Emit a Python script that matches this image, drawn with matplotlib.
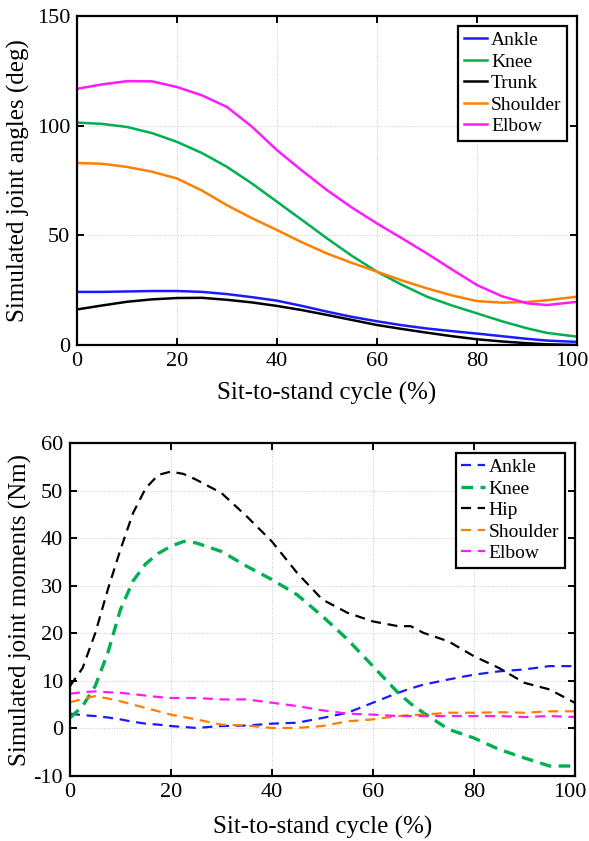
import matplotlib
matplotlib.use("Agg")
import matplotlib.pyplot as plt
import matplotlib.transforms as mtrans
import numpy as np

plt.rcParams['font.family'] = ['Liberation Serif', 'DejaVu Serif']
plt.rcParams['axes.unicode_minus'] = False

# joint angles (deg)
ang_x = [0, 5, 10, 15, 20, 25, 30, 35, 40, 45, 50, 55, 60, 65, 70, 75, 80, 85, 90, 94, 100]
ankle_ang = [24.2, 24.2, 24.4, 24.6, 24.6, 24.2, 23.2, 21.8, 20.2, 17.8, 15.2, 12.8, 10.8, 9.0, 7.5, 6.3, 5.2, 4.0, 2.8, 2.0, 1.4]
knee_ang = [101.4, 100.8, 99.4, 96.6, 92.6, 87.5, 81.2, 73.6, 65.3, 57.0, 48.6, 40.6, 33.4, 27.4, 22.0, 18.0, 14.4, 10.8, 7.6, 5.5, 3.8]
trunk_ang = [16.2, 18.0, 19.7, 20.8, 21.4, 21.5, 20.6, 19.4, 17.8, 15.9, 13.7, 11.4, 9.1, 7.3, 5.6, 4.0, 2.6, 1.6, 0.8, 0.3, 0.0]
shoulder_ang = [83.0, 82.6, 81.2, 79.0, 75.9, 70.4, 63.7, 57.8, 52.4, 46.8, 41.7, 37.4, 33.4, 29.4, 25.8, 22.6, 20.0, 19.3, 19.6, 20.4, 22.0]
elbow_ang = [116.8, 118.8, 120.3, 120.2, 117.6, 113.8, 108.5, 99.5, 88.8, 79.5, 70.6, 62.6, 55.4, 48.6, 41.7, 34.4, 27.3, 22.2, 19.0, 18.2, 19.7]

# joint moments (Nm)
mom_x = [0, 2.5, 5, 7.5, 10, 12.5, 15, 17.5, 20, 22.5, 25, 30, 35, 40, 45, 50, 55, 60, 65, 67.5, 70, 75, 80, 85, 90, 95, 100]
ankle_mom = [3.1, 2.8, 2.6, 2.3, 1.9, 1.4, 1.0, 0.8, 0.5, 0.3, 0.1, 0.5, 0.6, 1.0, 1.2, 2.2, 3.3, 5.4, 7.5, 8.4, 9.2, 10.3, 11.3, 12.0, 12.4, 13.1, 13.1]
knee_mom = [2.2, 4.7, 8.9, 15.9, 25.0, 31.0, 34.6, 36.8, 38.3, 39.3, 39.0, 37.2, 34.1, 31.3, 28.1, 23.6, 18.7, 13.1, 7.5, 5.2, 3.3, -0.2, -2.0, -4.4, -6.2, -7.9, -7.9]
hip_mom = [8.9, 12.7, 20.0, 29.2, 37.6, 45.3, 50.5, 53.3, 54.0, 53.5, 52.3, 49.5, 44.6, 39.3, 32.7, 27.1, 24.3, 22.5, 21.5, 21.5, 20.1, 18.3, 15.2, 12.7, 9.6, 8.2, 5.4]
shoulder_mom = [5.5, 6.2, 6.8, 6.3, 5.7, 5.0, 4.3, 3.6, 2.9, 2.4, 1.9, 0.8, 0.6, 0.1, 0.1, 0.5, 1.5, 1.9, 2.6, 2.8, 2.9, 3.3, 3.3, 3.4, 3.3, 3.6, 3.6]
elbow_mom = [7.3, 7.6, 7.8, 7.6, 7.5, 7.2, 6.9, 6.6, 6.4, 6.4, 6.4, 6.1, 6.1, 5.4, 4.7, 3.8, 3.1, 2.9, 2.6, 2.6, 2.6, 2.6, 2.6, 2.6, 2.4, 2.6, 2.4]

c_blue = '#1a1aff'
c_green = '#00b050'
c_black = '#000000'
c_orange = '#ff8000'
c_magenta = '#ff1aff'

fig = plt.figure(figsize=(5.89, 8.41), dpi=100)
ax1 = fig.add_axes([0.1307, 0.5898, 0.849, 0.3912])
ax2 = fig.add_axes([0.1188, 0.0773, 0.857, 0.3959])


def style(ax, xpad):
    ax.grid(True, linestyle=':', color='#c8c8c8', linewidth=0.7)
    ax.set_axisbelow(True)
    for s in ax.spines.values():
        s.set_linewidth(1.6)
    ax.tick_params(direction='in', top=True, right=True, length=5, width=1.4,
                   labelsize=16, pad=5)
    ax.set_xlim(0, 100)
    ax.set_xticks([0, 20, 40, 60, 80, 100])
    ax.set_xlabel('Sit-to-stand cycle (%)', fontsize=18, labelpad=xpad)
    # keep the last x tick label inside the figure
    lab = ax.get_xticklabels()[-1]
    lab.set_transform(lab.get_transform() +
                      mtrans.ScaledTranslation(-5 / 100, 0, fig.dpi_scale_trans))


lw = 1.8
ax1.plot(ang_x, ankle_ang, color=c_blue, lw=lw, label='Ankle')
ax1.plot(ang_x, knee_ang, color=c_green, lw=lw, label='Knee')
ax1.plot(ang_x, trunk_ang, color=c_black, lw=lw, label='Trunk')
ax1.plot(ang_x, shoulder_ang, color=c_orange, lw=lw, label='Shoulder')
ax1.plot(ang_x, elbow_ang, color=c_magenta, lw=lw, label='Elbow')
style(ax1, 8)
ax1.set_ylim(0, 150)
ax1.set_yticks([0, 50, 100, 150])
ax1.set_ylabel('Simulated joint angles (deg)', fontsize=18, labelpad=5)

dash = (4.5, 3)
ax2.plot(mom_x, ankle_mom, color=c_blue, lw=1.6, dashes=dash, label='Ankle')
ax2.plot(mom_x, knee_mom, color=c_green, lw=2.4, dashes=(3.5, 2.2), label='Knee')
ax2.plot(mom_x, hip_mom, color=c_black, lw=1.6, dashes=dash, label='Hip')
ax2.plot(mom_x, shoulder_mom, color=c_orange, lw=1.6, dashes=dash, label='Shoulder')
ax2.plot(mom_x, elbow_mom, color=c_magenta, lw=1.6, dashes=dash, label='Elbow')
style(ax2, 10)
ax2.set_ylim(-10, 60)
ax2.set_yticks(np.arange(-10, 61, 10))
ax2.set_ylabel('Simulated joint moments (Nm)', fontsize=18, labelpad=1)

for ax in (ax1, ax2):
    leg = ax.legend(loc='upper right', fontsize=14, handlelength=1.2,
                    handletextpad=0.2, labelspacing=0.2, borderpad=0.3,
                    borderaxespad=0.5, fancybox=False, framealpha=1)
    leg.get_frame().set_edgecolor('black')
    leg.get_frame().set_linewidth(1.6)

fig.savefig('out.png', dpi=100)
